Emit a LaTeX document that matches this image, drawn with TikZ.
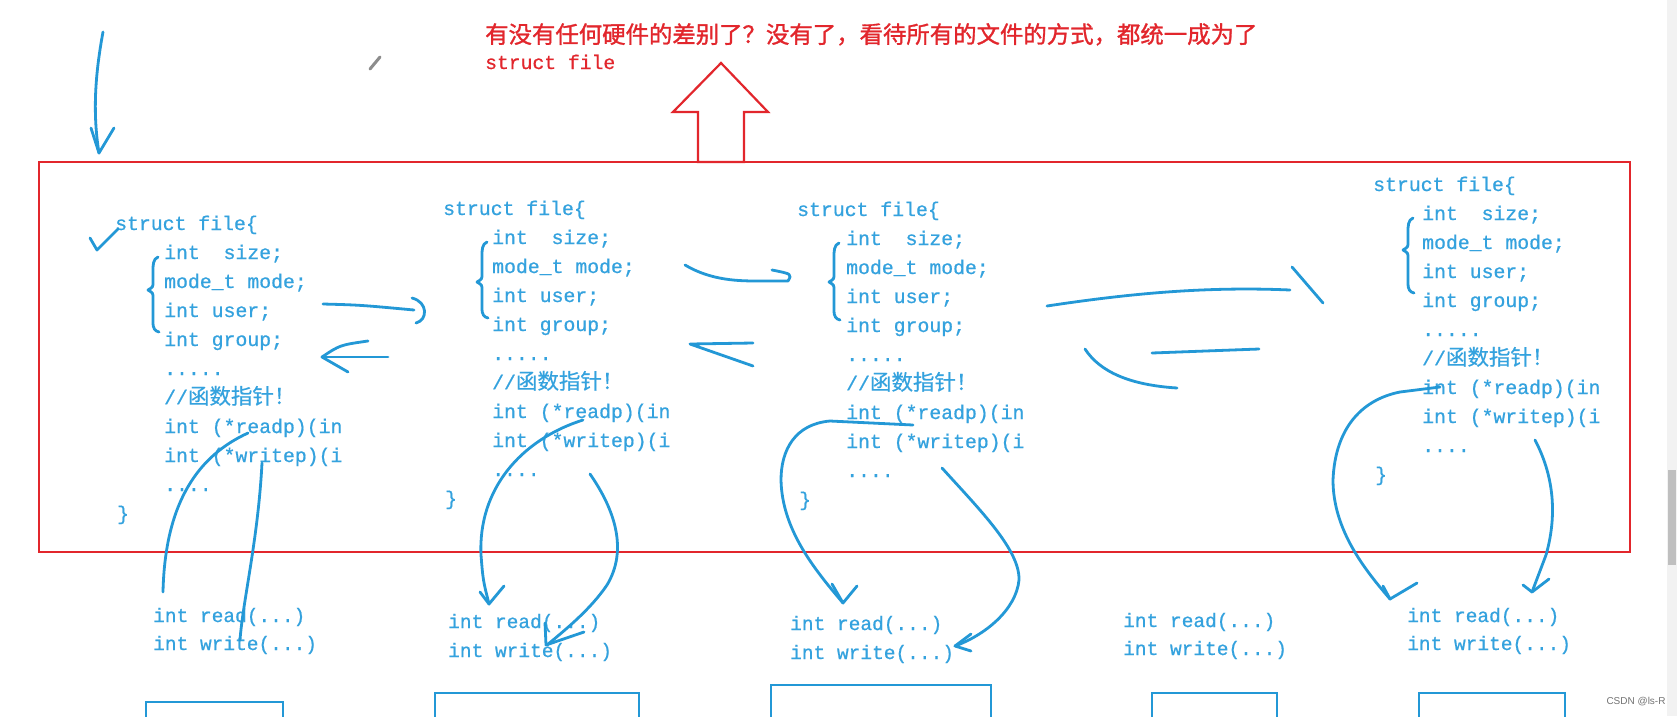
\documentclass[tikz,border=0pt]{standalone}
\usepackage{fontspec}
\newfontfamily\codefont{Liberation Mono}[FakeBold=0.7]
\newfontfamily\plainmono{Liberation Mono}
\newfontfamily\cjk{Noto Sans CJK SC}[FakeBold=0.5]
\newfontfamily\cjktitle{Noto Sans CJK SC}[FakeBold=1.2]
\newfontfamily\wmfont{Liberation Sans}
\definecolor{mblue}{RGB}{35,152,214}
\definecolor{tblue}{RGB}{52,162,222}
\definecolor{mred}{RGB}{226,38,44}
\tikzset{
 code/.style={text=tblue, font=\codefont\fontsize{19.8}{24}\selectfont, inner sep=0pt, anchor=base west},
 fn/.style={text=tblue, font=\codefont\fontsize{19.5}{24}\selectfont, inner sep=0pt, anchor=base west},
 hand/.style={draw=mblue, line width=2.8pt, line cap=round, line join=round},
 redline/.style={draw=mred, line width=2.2pt},
 boxline/.style={draw=mblue, line width=2.4pt},
}
\newcommand\structfile[3]{%
 \node[code] (#1t) at (#2,#3) {struct file\{};
 \node[code] (#1a) at ({#2+49},{#3+29}) {int\ \ size;};
 \node[code] (#1b) at ({#2+49},{#3+58}) {mode\_t mode;};
 \node[code] (#1c) at ({#2+49},{#3+87}) {int user;};
 \node[code] (#1d) at ({#2+49},{#3+116}) {int group;};
 \node[code] (#1e) at ({#2+49},{#3+145}) {.....};
 \node[code] (#1f) at ({#2+49},{#3+174}) {//{\cjk\fontsize{21.5}{24}\selectfont 函数指针！}};
 \begin{scope}
 \clip ({#2+40},{#3+180}) rectangle ({#2+227},{#3+245});
 \node[code] (#1g) at ({#2+49},{#3+203}) {int (*readp)(int};
 \node[code] (#1h) at ({#2+49},{#3+232}) {int (*writep)(i};
 \end{scope}
 \node[code] (#1i) at ({#2+49},{#3+261}) {....};
 \node[code] (#1j) at ({#2+2},{#3+290}) {\}};
}
\newcommand\handbrace[4]{%
 \draw[hand] ({#1+10},#2) .. controls ({#1+5},{#2+2}) and ({#1+5},{#2+8}) .. ({#1+5},{#2+14}) -- ({#1+5},{#3-8}) .. controls ({#1+5},{#3-3}) .. (#1,#3) .. controls ({#1+5},{#3+3}) .. ({#1+5},{#3+8}) -- ({#1+5},{#4-10}) .. controls ({#1+5},{#4-3}) and ({#1+7},{#4-1}) .. ({#1+11},#4);
}
\begin{document}
\begin{tikzpicture}[x=1pt,y=-1pt]
\useasboundingbox (0,0) rectangle (1677,716);
\clip (0,0) rectangle (1677,716);
\fill[white] (0,0) rectangle (1677,716);
% scrollbar
\fill[black!5] (1667,0) rectangle (1677,716);
\fill[black!25] (1668,470) rectangle (1676,565);

% red caption and arrow
\node[text=mred, font=\cjktitle\fontsize{23.4}{28}\selectfont, inner sep=0pt, anchor=base west] (title) at (485,43) {有没有任何硬件的差别了？没有了，看待所有的文件的方式，都统一成为了};
\node[text=mred, font=\codefont\fontsize{19.7}{24}\selectfont, inner sep=0pt, anchor=base west] (title2) at (485,69) {struct file};
\draw[redline, fill=white] (721,63) -- (768,112) -- (744,112) -- (744,162) -- (698,162) -- (698,112) -- (673,112) -- cycle;

% red frame
\draw[redline] (39,162) rectangle (1630,552);

% pencil mark
\draw[black!45, line width=3pt, line cap=round] (370,69) -- (380,57);

% structs
\structfile{sa}{115}{230}
\structfile{sb}{443}{215}
\structfile{sc}{797}{216}
\structfile{sd}{1373}{191}

% braces
\handbrace{148}{257}{290}{332}
\handbrace{477}{242}{282}{318}
\handbrace{829}{243}{282}{320}
\handbrace{1403}{218}{250}{293}

% bottom functions
\node[fn] (ra) at (153,622) {int read(...)};
\node[fn] (wa) at (153,650) {int write(...)};
\node[fn] (rb) at (448,628) {int read(...)};
\node[fn] (wb) at (448,657) {int write(...)};
\node[fn] (rc) at (790,630) {int read(...)};
\node[fn] (wc) at (790,659) {int write(...)};
\node[fn] (rd) at (1123,627) {int read(...)};
\node[fn] (wd) at (1123,655) {int write(...)};
\node[fn] (re) at (1407,622) {int read(...)};
\node[fn] (we) at (1407,650) {int write(...)};

% bottom boxes
\draw[boxline] (146,702) rectangle (283,740);
\draw[boxline] (435,693) rectangle (639,740);
\draw[boxline] (771,685) rectangle (991,740);
\draw[boxline] (1152,693) rectangle (1277,740);
\draw[boxline] (1419,693) rectangle (1565,740);

% hand strokes
\draw[hand] (103,32) .. controls (96,70) and (92,110) .. (99,153);
\draw[hand] (91,128) -- (99,153) -- (114,128);
\draw[hand] (90,238) -- (97,250) -- (118,229);

\draw[hand] (323,304) .. controls (360,305) .. (414,310);
\draw[hand] (412,298) .. controls (428,302) and (428,320) .. (416,323);
\draw[hand] (388,357) -- (322,357);
\draw[hand] (368,341) .. controls (340,345) .. (322,357) -- (348,372);

\draw[hand] (685,265) .. controls (712,281) and (740,281) .. (760,281) -- (788,281) .. controls (792,274) .. (772,270);
\draw[hand] (753,343) -- (690,344) -- (753,366);

\draw[hand] (1047,306) .. controls (1120,295) and (1200,286) .. (1290,290);
\draw[hand] (1292,267) -- (1323,303);
\draw[hand] (1085,349) .. controls (1100,372) and (1130,385) .. (1177,388);
\draw[hand] (1152,353) -- (1259,349);

% struct 1 pointers
\draw[hand] (248,433) .. controls (200,455) and (165,500) .. (163,592);
\draw[hand] (262,463) .. controls (258,540) and (243,600) .. (240,640);
% struct 2 pointers
\draw[hand] (583,420) .. controls (520,440) and (478,490) .. (481,555) .. controls (483,580) .. (489,604);
\draw[hand] (480,592) -- (489,604) -- (504,586);
\draw[hand] (590,474) .. controls (615,510) and (628,550) .. (607,585) .. controls (590,610) and (565,630) .. (547,645);
\draw[hand] (545,623) -- (546,645) -- (584,632);
% struct 3 pointers
\draw[hand] (913,425) -- (830,421) .. controls (795,424) and (781,450) .. (781,480) .. controls (782,530) and (815,570) .. (843,603);
\draw[hand] (832,584) -- (843,603) -- (857,586);
\draw[hand] (942,468) .. controls (980,510) and (1020,550) .. (1019,580) .. controls (1016,610) and (985,635) .. (955,646);
\draw[hand] (971,634) -- (955,646) -- (971,651);
% struct 4 pointers
\draw[hand] (1440,387) -- (1400,392) .. controls (1360,400) and (1335,430) .. (1333,480) .. controls (1333,530) and (1365,570) .. (1390,599);
\draw[hand] (1383,586) -- (1390,599) -- (1417,583);
\draw[hand] (1535,440) .. controls (1556,480) and (1556,520) .. (1546,555) -- (1532,592);
\draw[hand] (1523,585) -- (1532,592) -- (1549,579);

% watermark
\node[text=black!55, font=\wmfont\fontsize{10}{12}\selectfont, inner sep=0pt] (wm) at (1636,702) {CSDN @ls-R};
\end{tikzpicture}
\end{document}
